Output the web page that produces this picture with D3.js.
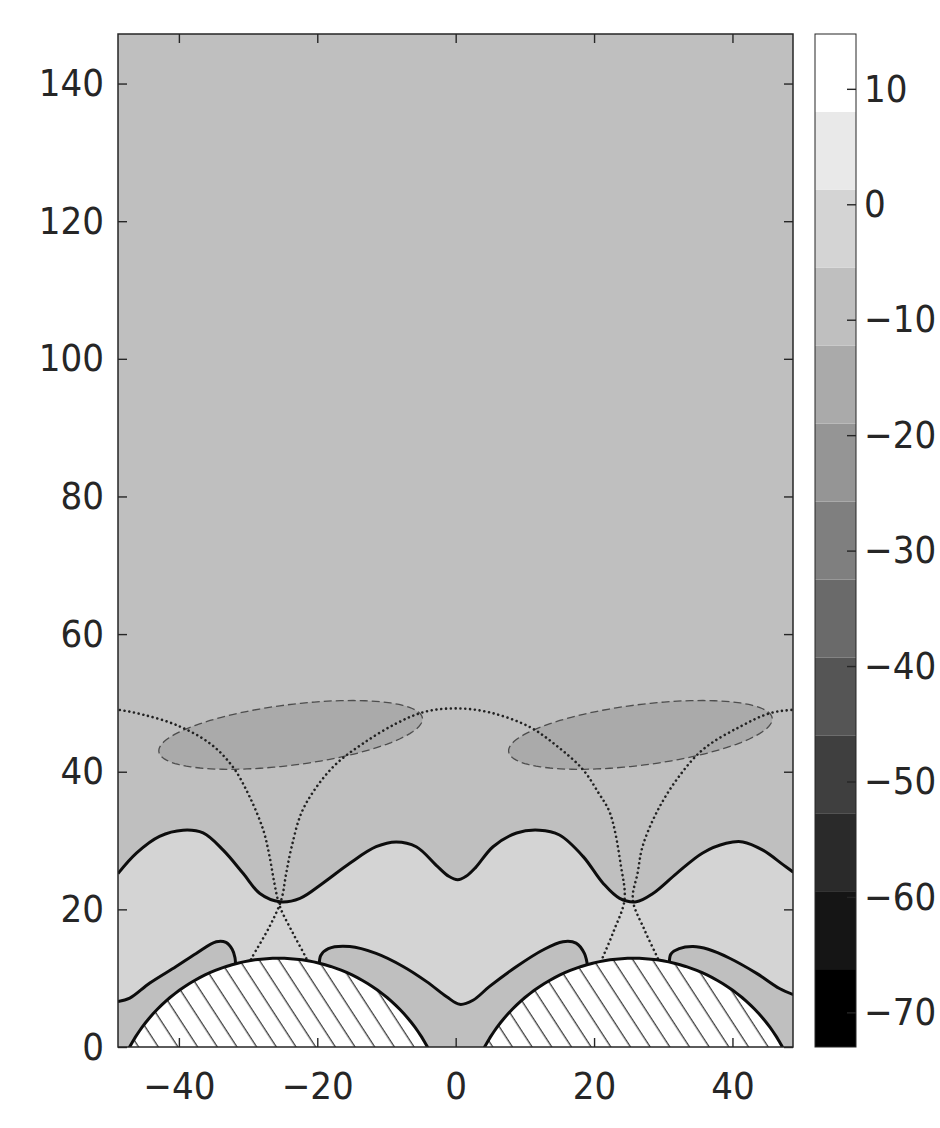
<!DOCTYPE html>
<html>
<head>
<meta charset="utf-8">
<script src="https://cdn.jsdelivr.net/npm/d3@7"></script>
<style>
body { margin: 0; background: #fff; }
</style>
</head>
<body>
<div id="viz"></div>
<script>

// ---- data (data units) ----
var xTicks = [-40, -20, 0, 20, 40];
var yTicks = [0, 20, 40, 60, 80, 100, 120, 140];
var cbTicks = [-70, -60, -50, -40, -30, -20, -10, 0, 10];

// colour bar band edges and the grey of each band (bottom -> top)
var levels = [-73, -66.25, -59.5, -52.75, -46, -39.25, -32.5, -25.75, -19, -12.25, -5.5, 1.25, 8, 14.75];
var grays = ["#000000", "#151515", "#2a2a2a", "#3f3f3f", "#555555", "#6a6a6a", "#7f7f7f",
             "#959595", "#aaaaaa", "#bfbfbf", "#d4d4d4", "#e9e9e9", "#ffffff"];

// field value of each region
var bgValue = -9;
var bandValue = -2;
var ellipseValue = -16;

// upper solid contour (boundary of light band)
var upperLine = [[-48.8,25.2],[-46.1,28.2],[-42.8,30.6],[-39.4,31.5],[-36.5,31.1],[-33.6,28.6],[-30.7,25.2],
  [-28.3,22.3],[-25.4,21.1],[-22.5,21.6],[-19.2,23.8],[-15.3,26.7],[-11.5,29.1],[-8.6,29.8],[-5.7,29.1],
  [-2.6,26.2],[-1.0,24.8],[0.3,24.3],[1.5,24.8],[2.9,26.1],[5.4,29.1],[8.8,31.1],[12.1,31.5],[15.0,30.8],
  [18.4,27.7],[21.3,23.8],[23.7,21.6],[26.1,21.1],[28.5,22.3],[31.9,25.2],[35.7,28.2],[39.1,29.6],
  [41.5,29.8],[44.4,28.6],[47.3,26.5],[48.8,25.4]];

// lower solid contours
var lowerLeft = [[-48.8,6.6],[-47.1,7.1],[-44.2,9.3],[-40.4,11.7],[-37.5,13.6],[-34.6,15.3],[-33.2,15.2],
  [-32.3,14.2],[-31.9,13.0],[-31.8,11.5]];
var lowerMid = [[-19.7,11.5],[-19.5,13.3],[-18.4,14.3],[-15.3,14.6],[-11.5,13.6],[-7.6,11.7],[-4.2,9.5],
  [-1.3,7.3],[0.6,6.2],[2.5,6.8],[4.9,8.8],[8.8,11.7],[12.6,14.1],[15.5,15.3],[17.4,15.1],[18.6,13.6],[19.1,11.5]];
var lowerRight = [[30.9,11.8],[31.1,13.5],[32.3,14.3],[34.3,14.6],[36.5,14.2],[39.6,12.9],[43.5,10.7],
  [46.8,8.5],[48.8,7.6]];

// dotted curves
var dotLeft = [[-52,49.2],[-48.8,49.0],[-45.2,48.3],[-40.4,46.8],[-35.5,44.1],[-32.2,40.7],[-29.8,36.4],
  [-27.8,31.5],[-26.9,27.7],[-26.2,23.8],[-25.4,20.4],[-23.5,16.5],[-21.6,12.9],[-21.0,11.5]];
var dotCenter = [[-30.2,11.5],[-29.5,12.9],[-26.9,17.5],[-25.2,21.4],[-24.5,25.2],[-23.7,29.1],[-22.3,34.0],
  [-20.1,37.8],[-17.2,41.2],[-13.4,44.1],[-8.6,47.0],[-4.5,48.7],[0,49.2],[5.0,48.6],[10.7,46.5],
  [14.8,43.6],[18.4,40.3],[20.6,37.0],[22.3,34.0],[23.9,26.2],[24.4,21.4],[22.9,17.0],[21.2,12.9],[20.6,11.5]];
var dotRight = [[52,49.2],[48.7,49.0],[45.4,48.5],[41.0,46.5],[35.7,43.2],[31.9,38.8],[29.0,34.0],
  [27.0,29.1],[26.3,25.3],[25.6,21.4],[27.3,17.0],[29.2,12.9],[29.8,11.5]];

// dashed ellipses: centre x, centre y, semi axes, tilt (deg)
var ellCx = [-23.85, 26.7];
var ellCy = [45.35, 45.35];
var ellA = [19.2, 19.2];
var ellB = [4.4, 4.4];
var ellTilt = [7.3, 7.3];

// hatched circles
var circCx = [-25.6, 25.7];
var circCy = [-11.5, -11.5];
var circR = [24.4, 24.4];

// ---- drawing ----
var svg = d3.select("#viz").append("svg")
    .attr("width", 940)
    .attr("height", 1128);

var x = d3.scaleLinear().domain([-48.8, 48.75]).range([118, 793]);
var y = d3.scaleLinear().domain([0, 147.2]).range([1047, 34]);
var cb = d3.scaleLinear().domain([levels[0], levels[levels.length - 1]]).range([1047, 34]);
var fill = d3.scaleThreshold().domain(levels.slice(1, -1)).range(grays);

var defs = svg.append("defs");
defs.append("clipPath").attr("id", "plotclip")
  .append("rect").attr("x", 118).attr("y", 34).attr("width", 675).attr("height", 1013);

var hatch = defs.append("pattern")
    .attr("id", "hatch")
    .attr("patternUnits", "userSpaceOnUse")
    .attr("width", 16.5).attr("height", 16.5)
    .attr("patternTransform", "rotate(-33)");
hatch.append("rect").attr("width", 16.5).attr("height", 16.5).attr("fill", "#fff");
hatch.append("line").attr("x1", 8).attr("y1", 0).attr("x2", 8).attr("y2", 16.5)
    .attr("stroke", "#000").attr("stroke-width", 1);

var line = d3.line().x(function(d){ return x(d[0]); }).y(function(d){ return y(d[1]); })
    .curve(d3.curveCatmullRom.alpha(0.5));
var lineLin = d3.line().x(function(d){ return x(d[0]); }).y(function(d){ return y(d[1]); });

function rev(a){ return a.slice().reverse(); }
function cont(d){ return d.replace(/^M/, "L"); }
function pts(a){ return a.map(function(d){ return "L" + x(d[0]) + "," + y(d[1]); }).join(""); }

var plot = svg.append("g").attr("clip-path", "url(#plotclip)");

plot.append("rect")
    .attr("x", x(-48.8)).attr("y", y(147.2))
    .attr("width", x(48.75) - x(-48.8)).attr("height", y(0) - y(147.2))
    .attr("fill", fill(bgValue));

// light band between the upper and lower contours
var bandPath = line(upperLine)
    + pts([[49.5, 25.4], [49.5, 7.6]])
    + cont(line(rev(lowerRight)))
    + pts([[25.7, 6]])
    + cont(line(rev(lowerMid)))
    + pts([[-25.6, 6]])
    + cont(line(rev(lowerLeft)))
    + pts([[-49.5, 6.6], [-49.5, 25.2]]) + "Z";
plot.append("path").attr("d", bandPath).attr("fill", fill(bandValue));

// ellipses
ellCx.forEach(function(cx, i){
    var phi = ellTilt[i] * Math.PI / 180;
    var p = d3.range(0, 361, 3).map(function(t){
        var r = t * Math.PI / 180;
        var ex = ellA[i] * Math.cos(r), ey = ellB[i] * Math.sin(r);
        return [cx + ex * Math.cos(phi) - ey * Math.sin(phi), ellCy[i] + ex * Math.sin(phi) + ey * Math.cos(phi)];
    });
    plot.append("path").attr("d", lineLin(p) + "Z")
        .attr("fill", fill(ellipseValue))
        .attr("stroke", "#4d4d4d")
        .attr("stroke-width", 1.3)
        .attr("stroke-dasharray", "8,4");
});

// dotted curves
[dotLeft, dotCenter, dotRight].forEach(function(c){
    plot.append("path").attr("d", line(c))
        .attr("fill", "none")
        .attr("stroke", "#222")
        .attr("stroke-width", 2.6)
        .attr("stroke-linecap", "round")
        .attr("stroke-dasharray", "0.01,4.8");
});

// solid contours
[upperLine, lowerLeft, lowerMid, lowerRight].forEach(function(c){
    plot.append("path").attr("d", line(c))
        .attr("fill", "none")
        .attr("stroke", "#0d0d0d")
        .attr("stroke-width", 3)
        .attr("stroke-linejoin", "round");
});

// hatched circles
circCx.forEach(function(cx, i){
    var p = d3.range(0, 361, 2).map(function(t){
        var r = t * Math.PI / 180;
        return [cx + circR[i] * Math.cos(r), circCy[i] + circR[i] * Math.sin(r)];
    });
    plot.append("path").attr("d", lineLin(p) + "Z")
        .attr("fill", "url(#hatch)")
        .attr("stroke", "#0d0d0d")
        .attr("stroke-width", 3);
});

// axes
var fontFam = "'DejaVu Sans', sans-serif";
function styleAxis(g){
    g.attr("font-size", 38).attr("font-family", fontFam).style("color", "#262626");
    g.select(".domain").remove();
    g.selectAll("text").style("font-stretch", "condensed");
    g.selectAll("line").attr("stroke-width", 1.4);
}

svg.append("g").attr("transform", "translate(0,1047)")
    .call(d3.axisBottom(x).tickValues(xTicks).tickSizeInner(-9).tickSizeOuter(0).tickPadding(25))
    .call(styleAxis);
svg.append("g").attr("transform", "translate(0,34)")
    .call(d3.axisTop(x).tickValues(xTicks).tickSizeInner(-9).tickSizeOuter(0).tickFormat(""))
    .call(styleAxis);
svg.append("g").attr("transform", "translate(118,0)")
    .call(d3.axisLeft(y).tickValues(yTicks).tickSizeInner(-9).tickSizeOuter(0).tickPadding(14))
    .call(styleAxis);
svg.append("g").attr("transform", "translate(793,0)")
    .call(d3.axisRight(y).tickValues(yTicks).tickSizeInner(-9).tickSizeOuter(0).tickFormat(""))
    .call(styleAxis);

svg.append("rect")
    .attr("x", 118).attr("y", 34).attr("width", 675).attr("height", 1013)
    .attr("fill", "none").attr("stroke", "#262626").attr("stroke-width", 1.5);

// colour bar
var cbX = 815, cbW = 41;
var bands = d3.range(grays.length);
svg.append("g").selectAll("rect").data(bands).enter().append("rect")
    .attr("x", cbX)
    .attr("y", function(i){ return cb(levels[i + 1]); })
    .attr("width", cbW)
    .attr("height", function(i){ return cb(levels[i]) - cb(levels[i + 1]); })
    .attr("fill", function(i){ return grays[i]; });

svg.append("g").attr("transform", "translate(" + (cbX + cbW) + ",0)")
    .call(d3.axisRight(cb).tickValues(cbTicks).tickSizeInner(-9).tickSizeOuter(0).tickPadding(8))
    .call(styleAxis);

svg.append("rect")
    .attr("x", cbX).attr("y", 34).attr("width", cbW).attr("height", 1013)
    .attr("fill", "none").attr("stroke", "#262626").attr("stroke-width", 1);

</script>
</body>
</html>
